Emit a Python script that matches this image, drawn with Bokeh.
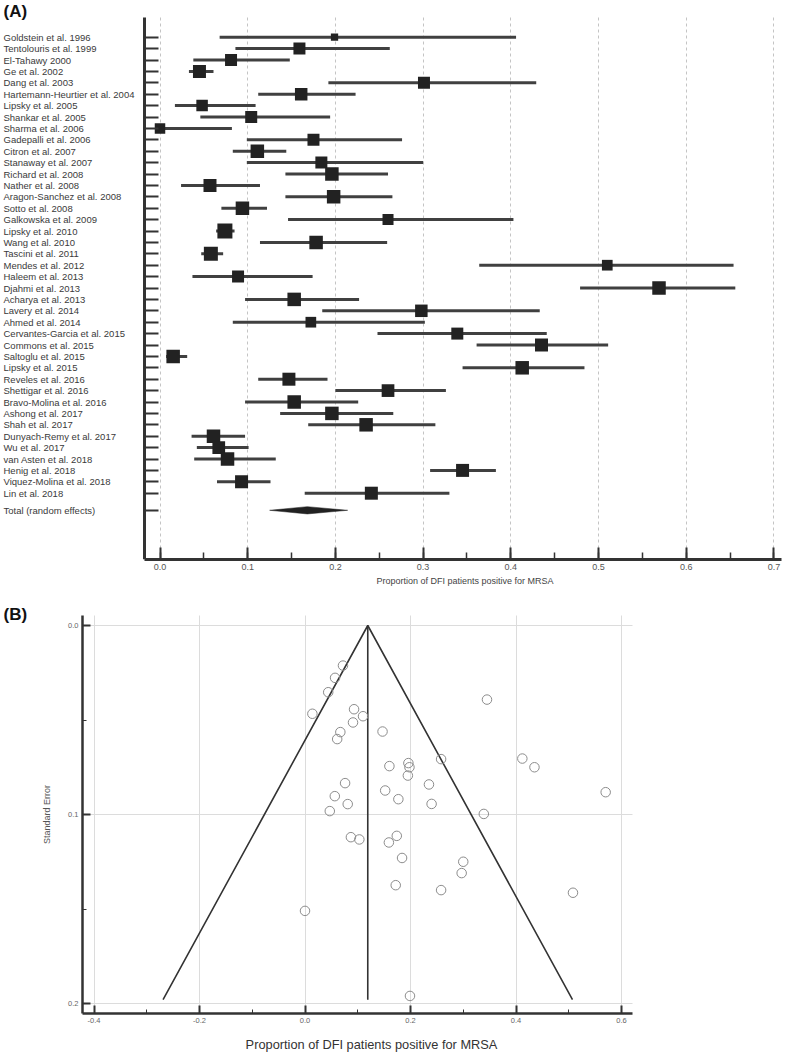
import math
from bokeh.plotting import figure
from bokeh.models import Range1d, FixedTicker, SingleIntervalTicker, NumeralTickFormatter, ColumnDataSource, Title
from bokeh.layouts import column
from bokeh.embed import file_html
from bokeh.resources import INLINE
from bokeh.core.properties import value

FONT = "Liberation Sans"

# ---------------- data: forest plot ----------------
studies = [
    "Goldstein et al. 1996", "Tentolouris et al. 1999", "El-Tahawy 2000", "Ge et al. 2002",
    "Dang et al. 2003", "Hartemann-Heurtier et al. 2004", "Lipsky et al. 2005", "Shankar et al. 2005",
    "Sharma et al. 2006", "Gadepalli et al. 2006", "Citron et al. 2007", "Stanaway et al. 2007",
    "Richard et al. 2008", "Nather et al. 2008", "Aragon-Sanchez et al. 2008", "Sotto et al. 2008",
    "Galkowska et al. 2009", "Lipsky et al. 2010", "Wang et al. 2010", "Tascini et al. 2011",
    "Mendes et al. 2012", "Haleem et al. 2013", "Djahmi et al. 2013", "Acharya et al. 2013",
    "Lavery et al. 2014", "Ahmed et al. 2014", "Cervantes-Garcia et al. 2015", "Commons et al. 2015",
    "Saltoglu et al. 2015", "Lipsky et al. 2015", "Reveles et al. 2016", "Shettigar et al. 2016",
    "Bravo-Molina et al. 2016", "Ashong et al. 2017", "Shah et al. 2017", "Dunyach-Remy et al. 2017",
    "Wu et al. 2017", "van Asten et al. 2018", "Henig et al. 2018", "Viquez-Molina et al. 2018",
    "Lin et al. 2018",
]
proportion = [0.199, 0.159, 0.081, 0.045, 0.301, 0.161, 0.048, 0.104, 0.000, 0.175, 0.111, 0.184,
              0.196, 0.057, 0.198, 0.094, 0.260, 0.074, 0.178, 0.058, 0.510, 0.089, 0.569, 0.153,
              0.298, 0.172, 0.339, 0.435, 0.015, 0.413, 0.147, 0.260, 0.153, 0.196, 0.235, 0.061,
              0.067, 0.077, 0.345, 0.093, 0.241]
ci_lower = [0.068, 0.086, 0.038, 0.033, 0.192, 0.112, 0.017, 0.046, 0.000, 0.099, 0.083, 0.099,
            0.143, 0.024, 0.143, 0.070, 0.146, 0.064, 0.114, 0.047, 0.364, 0.037, 0.479, 0.097,
            0.185, 0.083, 0.248, 0.361, 0.007, 0.345, 0.112, 0.200, 0.097, 0.137, 0.169, 0.036,
            0.042, 0.039, 0.308, 0.065, 0.165]
ci_upper = [0.406, 0.262, 0.148, 0.061, 0.429, 0.223, 0.109, 0.194, 0.082, 0.276, 0.144, 0.300,
            0.260, 0.114, 0.265, 0.122, 0.403, 0.085, 0.259, 0.072, 0.654, 0.174, 0.656, 0.227,
            0.433, 0.302, 0.441, 0.511, 0.031, 0.484, 0.191, 0.326, 0.226, 0.266, 0.314, 0.097,
            0.101, 0.132, 0.383, 0.126, 0.330]
weight_pct = [0.79, 2.14, 2.14, 2.51, 2.14, 2.32, 1.97, 2.14, 1.64, 2.14, 2.71, 2.14,
              2.71, 2.51, 2.71, 2.71, 1.80, 3.35, 2.71, 2.91, 1.70, 2.14, 2.71, 2.71,
              2.32, 1.70, 2.14, 2.51, 2.71, 2.71, 2.51, 2.40, 2.71, 2.71, 2.71, 2.71,
              2.40, 2.71, 2.51, 2.51, 2.51]
total_label = "Total (random effects)"
total_est, total_lower, total_upper = 0.168, 0.125, 0.214
forest_xlabel = "Proportion of DFI patients positive for MRSA"

# ---------------- data: funnel plot ----------------
funnel_prop = [0.072, 0.057, 0.044, 0.014, 0.093, 0.110, 0.091, 0.067, 0.061, 0.147,
               0.345, 0.258, 0.412, 0.435, 0.570, 0.235, 0.240, 0.339, 0.300, 0.297,
               0.258, 0.508, 0.160, 0.196, 0.198, 0.195, 0.076, 0.0565, 0.081, 0.047,
               0.152, 0.177, 0.087, 0.103, 0.174, 0.159, 0.184, 0.172, 0.000, 0.199]
funnel_se = [0.0212, 0.0277, 0.0353, 0.0467, 0.0443, 0.0480, 0.0513, 0.0564, 0.0601, 0.0561,
             0.0392, 0.0707, 0.0704, 0.0750, 0.0882, 0.0841, 0.0944, 0.0997, 0.1250, 0.1310,
             0.1400, 0.1414, 0.0744, 0.0728, 0.0750, 0.0794, 0.0834, 0.0903, 0.0945, 0.0982,
             0.0873, 0.0919, 0.1120, 0.1132, 0.1113, 0.1148, 0.1230, 0.1374, 0.1510, 0.1960]
funnel_center = 0.119
funnel_se_max = 0.198
funnel_xlabel = "Proportion of DFI patients positive for MRSA"
funnel_ylabel = "Standard Error"

AX = "#333333"

# ---------------- geometry (page px) ----------------
n = len(studies)
rows = list(range(n))
total_row = n + 0.5
ROW_PX = 11.4          # px per study row
ROW0 = 36.7            # px of first study row
PX_PER_UNIT = 877.0    # forest x scale
X_ZERO = 159.5         # px of x = 0
W = 783
FR_RIGHT = 781         # common frame right edge
A_H = 596
FR_BOT = 559
AXIS_TOP = 17
AXIS_X = 144

def fx(px):
    return (px - X_ZERO) / PX_PER_UNIT

def fy(py):
    return (py - ROW0) / ROW_PX

# ---------------- forest (panel A) ----------------
forest = figure(width=W, height=A_H, x_range=Range1d(fx(0), fx(FR_RIGHT)),
                y_range=Range1d(fy(FR_BOT), fy(0)),
                output_backend="svg", toolbar_location=None,
                min_border_left=0, min_border_right=W - FR_RIGHT, min_border_top=0,
                min_border_bottom=A_H - FR_BOT)
forest.outline_line_color = None
forest.ygrid.visible = False
forest.xgrid.grid_line_color = "#c4c4c4"
forest.xgrid.grid_line_dash = "3 3"
forest.xgrid.grid_line_width = 1
try:
    forest.xgrid.cross_bounds = (fy(AXIS_TOP), fy(FR_BOT))
except Exception:
    pass

ya = forest.yaxis[0]
ya.fixed_location = fx(AXIS_X)
ya.bounds = (fy(AXIS_TOP), fy(FR_BOT))
ya.ticker = FixedTicker(ticks=rows + [total_row])
ya.major_label_text_font_size = "0px"
ya.major_label_standoff = 0
ya.major_tick_in = 14
ya.major_tick_out = 0
ya.minor_tick_in = 0
ya.minor_tick_out = 0
ya.axis_line_width = 3
ya.axis_line_color = AX
ya.major_tick_line_width = 2
ya.major_tick_line_color = AX

xa = forest.xaxis[0]
xa.bounds = (fx(AXIS_X), fx(FR_RIGHT))
xa.ticker = SingleIntervalTicker(interval=0.1, num_minor_ticks=2)
xa.formatter = NumeralTickFormatter(format="0.0")
xa.major_tick_in = 12
xa.major_tick_out = 0
xa.minor_tick_in = 7
xa.minor_tick_out = 0
xa.axis_line_width = 3
xa.axis_line_color = AX
xa.major_tick_line_width = 2
xa.major_tick_line_color = AX
xa.minor_tick_line_width = 1.5
xa.minor_tick_line_color = AX
xa.major_label_text_font = FONT
xa.major_label_text_font_size = "9px"
xa.major_label_text_color = "#555555"
xa.major_label_standoff = 4
forest.add_layout(Title(text=forest_xlabel, align="left", offset=376, standoff=3,
                        text_font=FONT, text_font_size="9px", text_font_style="normal",
                        text_color="#444444"), "below")

# study labels and panel tag
forest.text(x=[fx(3)] * (n + 1), y=rows + [total_row], text=studies + [total_label],
            text_font=value(FONT), text_font_size="9.5px", text_align="left",
            text_baseline="middle", text_color="#3a3a3a")
forest.text(x=[fx(3)], y=[fy(11)], text=["(A)"], text_font=value(FONT), text_font_size="17px",
            text_font_style="bold", text_align="left", text_baseline="middle", text_color="#111111")

src = ColumnDataSource(dict(y=rows, est=proportion, lo=ci_lower, hi=ci_upper,
                            size=[8.2 * math.sqrt(w) for w in weight_pct]))
forest.segment(x0="lo", y0="y", x1="hi", y1="y", source=src, line_width=3, line_color="#404040")
forest.scatter(x="est", y="y", size="size", marker="square", source=src,
               fill_color="#222222", line_color=None)
h = 0.32
forest.patch(x=[total_lower, total_est, total_upper, total_est],
             y=[total_row, total_row - h, total_row, total_row + h],
             fill_color="#222222", line_color="#222222", line_width=0.5)

# ---------------- funnel (panel B) ----------------
B_TOP = A_H
B_H = 456
B_BOT = B_TOP + B_H
F_LEFT, F_RIGHT, F_TOP, F_BOT = 82, 632, 615, 1013
SE_ZERO_PX, SE_PX = 625.0, 1890.0
P_ZERO_PX, P_PX = 304.5, 527.5

def gx(px):
    return (px - P_ZERO_PX) / P_PX

def gy(py):
    return (py - SE_ZERO_PX) / SE_PX

funnel = figure(width=W, height=B_H, x_range=Range1d(gx(0), gx(FR_RIGHT)),
                y_range=Range1d(gy(B_BOT), gy(B_TOP)),
                output_backend="svg", toolbar_location=None,
                min_border_left=0, min_border_right=W - FR_RIGHT,
                min_border_top=0, min_border_bottom=0)
funnel.outline_line_color = None
funnel.grid.grid_line_color = "#dcdcdc"
funnel.grid.grid_line_width = 1
try:
    funnel.ygrid.cross_bounds = (gx(F_LEFT), gx(F_RIGHT))
    funnel.xgrid.cross_bounds = (gy(F_TOP), gy(F_BOT))
except Exception:
    pass

gxa = funnel.xaxis[0]
gxa.fixed_location = gy(F_BOT)
gxa.bounds = (gx(F_LEFT), gx(F_RIGHT))
gxa.ticker = SingleIntervalTicker(interval=0.2, num_minor_ticks=2)
gxa.formatter = NumeralTickFormatter(format="0.0")
gya = funnel.yaxis[0]
gya.fixed_location = gx(F_LEFT)
gya.bounds = (gy(F_TOP), gy(F_BOT))
gya.ticker = SingleIntervalTicker(interval=0.1, num_minor_ticks=2)
gya.formatter = NumeralTickFormatter(format="0.0")
for a in (gxa, gya):
    a.major_tick_in = 8
    a.major_tick_out = 0
    a.minor_tick_in = 4
    a.minor_tick_out = 0
    a.axis_line_width = 2.5
    a.axis_line_color = AX
    a.major_tick_line_width = 2
    a.major_tick_line_color = AX
    a.minor_tick_line_color = AX
    a.major_label_text_font = FONT
    a.major_label_text_font_size = "7.5px"
    a.major_label_text_color = "#666666"
    a.major_label_standoff = 4
    a.axis_label_text_font = FONT
    a.axis_label_text_font_style = "normal"
gya.axis_label = funnel_ylabel
gya.axis_label_text_font_size = "9px"
gya.axis_label_text_color = "#555555"
gya.axis_label_standoff = 13

funnel.text(x=[gx(3)], y=[gy(614)], text=["(B)"], text_font=value(FONT), text_font_size="17px",
            text_font_style="bold", text_align="left", text_baseline="middle", text_color="#111111")
funnel.text(x=[gx(371)], y=[gy(1044)], text=[funnel_xlabel], text_font=value(FONT),
            text_font_size="12.8px", text_align="center", text_baseline="middle", text_color="#333333")

funnel.line(x=[funnel_center - 1.96 * funnel_se_max, funnel_center, funnel_center + 1.96 * funnel_se_max],
            y=[funnel_se_max, 0, funnel_se_max], line_color="#333333", line_width=1.6)
funnel.line(x=[funnel_center, funnel_center], y=[0, funnel_se_max], line_color="#333333", line_width=1.6)
funnel.scatter(x=funnel_prop, y=funnel_se, marker="circle", size=9.5, fill_color=None,
               line_color="#8c8c8c", line_width=1)

layout = column(forest, funnel)
open("out.html", "w").write(file_html(layout, INLINE))
